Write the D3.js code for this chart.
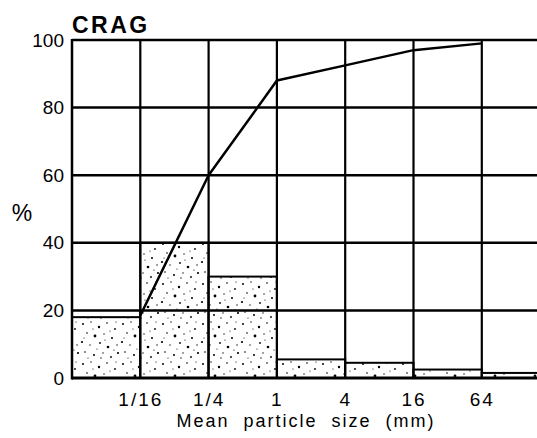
<!DOCTYPE html>
<html>
<head>
<meta charset="utf-8">
<script src="https://cdn.jsdelivr.net/npm/d3@7"></script>
<style>
  html, body { margin: 0; padding: 0; background: #fff; }
  svg { display: block; font-family: "Liberation Sans", Arial, sans-serif; }
</style>
</head>
<body>
<svg id="chart"></svg>
<script>
// bin edges of the particle-size classes (mm)
const sizeEdges = [1/64, 1/16, 1/4, 1, 4, 16, 64, 256];
// percentage in each class
const binPercent = [18, 40, 30, 5.5, 4.5, 2.5, 1.5];
// cumulative curve
const cumSizes = [1/16, 1/4, 1, 4, 16, 64];
const cumPercent = [18.5, 60, 88, 92.5, 97, 99];
// tick labels
const xTickValues = [1/16, 1/4, 1, 4, 16, 64];
const xTickLabels = ["1/16", "1/4", "1", "4", "16", "64"];
const yTicks = [0, 20, 40, 60, 80, 100];

const width = 537, height = 438;
const margin = {top: 40, right: 0, bottom: 60, left: 72};

const svg = d3.select('#chart')
    .attr('width', width)
    .attr('height', height);

const x = d3.scaleLog().base(2)
    .domain([1/64, 256])
    .range([margin.left, margin.left + 7 * 68.3]);

const y = d3.scaleLinear()
    .domain([0, 100])
    .range([height - margin.bottom, margin.top]);

// stipple texture (fixed dot layout for the tile)
const dots = [
  [3,4,1.0],[11,2,0.7],[19,7,1.2],[27,3,0.8],[35,9,0.9],[7,13,0.8],[15,16,1.4],
  [24,14,0.7],[32,18,1.0],[2,22,1.1],[10,25,0.7],[20,23,0.9],[28,27,1.3],[37,25,0.7],
  [5,32,0.8],[14,35,1.0],[23,33,0.7],[31,37,0.9],[38,33,1.1],[17,29,0.6],[8,38,0.6],
  [25,20,0.6],[36,2,0.6],[13,9,0.6],[30,11,0.6],[4,18,0.6],[21,38,0.7],[34,30,0.6]
];
const defs = svg.append('defs');
const pat = defs.append('pattern')
    .attr('id', 'stipple')
    .attr('patternUnits', 'userSpaceOnUse')
    .attr('width', 40)
    .attr('height', 40);
pat.append('rect').attr('width', 40).attr('height', 40).attr('fill', '#fff');
pat.selectAll('circle')
    .data(dots)
    .join('circle')
    .attr('cx', d => d[0])
    .attr('cy', d => d[1])
    .attr('r', d => d[2])
    .attr('fill', '#000');

const bins = binPercent.map((v, i) => ({x0: sizeEdges[i], x1: sizeEdges[i + 1], v}));

// bars
svg.append('g')
    .selectAll('rect')
    .data(bins)
    .join('rect')
    .attr('x', d => x(d.x0))
    .attr('y', d => y(d.v))
    .attr('width', d => x(d.x1) - x(d.x0))
    .attr('height', d => y(0) - y(d.v))
    .attr('fill', 'url(#stipple)')
    .attr('stroke', '#000')
    .attr('stroke-width', 2);

// grid
const grid = svg.append('g').attr('stroke', '#000');
grid.selectAll('.hgrid')
    .data(yTicks.filter(d => d > 0))
    .join('line')
    .attr('class', 'hgrid')
    .attr('x1', margin.left)
    .attr('x2', width)
    .attr('y1', d => y(d))
    .attr('y2', d => y(d))
    .attr('stroke-width', 2.5);
grid.selectAll('.vgrid')
    .data(xTickValues)
    .join('line')
    .attr('class', 'vgrid')
    .attr('x1', d => x(d))
    .attr('x2', d => x(d))
    .attr('y1', y(100))
    .attr('y2', y(0))
    .attr('stroke-width', 2.2);
// left + bottom frame
grid.append('line')
    .attr('x1', margin.left).attr('x2', margin.left)
    .attr('y1', y(100) - 1).attr('y2', y(0) + 1.5)
    .attr('stroke-width', 2.5);
grid.append('line')
    .attr('x1', margin.left).attr('x2', width)
    .attr('y1', y(0)).attr('y2', y(0))
    .attr('stroke-width', 3);

// cumulative curve
const line = d3.line()
    .x((d, i) => x(cumSizes[i]))
    .y(d => y(d));
svg.append('path')
    .datum(cumPercent)
    .attr('d', line)
    .attr('fill', 'none')
    .attr('stroke', '#000')
    .attr('stroke-width', 2.5)
    .attr('stroke-linejoin', 'round');

// axes
const yAxis = svg.append('g')
    .attr('transform', `translate(${margin.left},0)`)
    .call(d3.axisLeft(y).tickValues(yTicks).tickSize(0).tickPadding(8));
yAxis.select('.domain').remove();
yAxis.selectAll('text')
    .attr('font-size', 19)
    .attr('font-family', '"Liberation Sans", Arial, sans-serif')
    .attr('fill', '#000');

const xAxis = svg.append('g')
    .attr('transform', `translate(0,${y(0)})`)
    .call(d3.axisBottom(x).tickValues(xTickValues)
        .tickFormat((d, i) => xTickLabels[i]).tickSize(0).tickPadding(15));
xAxis.select('.domain').remove();
xAxis.selectAll('text')
    .attr('font-size', 19)
    .attr('letter-spacing', 2)
    .attr('font-family', '"Liberation Sans", Arial, sans-serif')
    .attr('fill', '#000');

// labels
svg.append('text')
    .attr('x', margin.left)
    .attr('y', 33)
    .attr('font-size', 23)
    .attr('font-weight', 'bold')
    .attr('letter-spacing', 2.5)
    .text('CRAG');

svg.append('text')
    .attr('x', 22)
    .attr('y', 221)
    .attr('text-anchor', 'middle')
    .attr('font-size', 23)
    .text('%');

svg.append('text')
    .attr('x', 306)
    .attr('y', 427)
    .attr('text-anchor', 'middle')
    .attr('font-size', 18)
    .attr('letter-spacing', 2)
    .attr('word-spacing', 7)
    .text('Mean particle size (mm)');
</script>
</body>
</html>
